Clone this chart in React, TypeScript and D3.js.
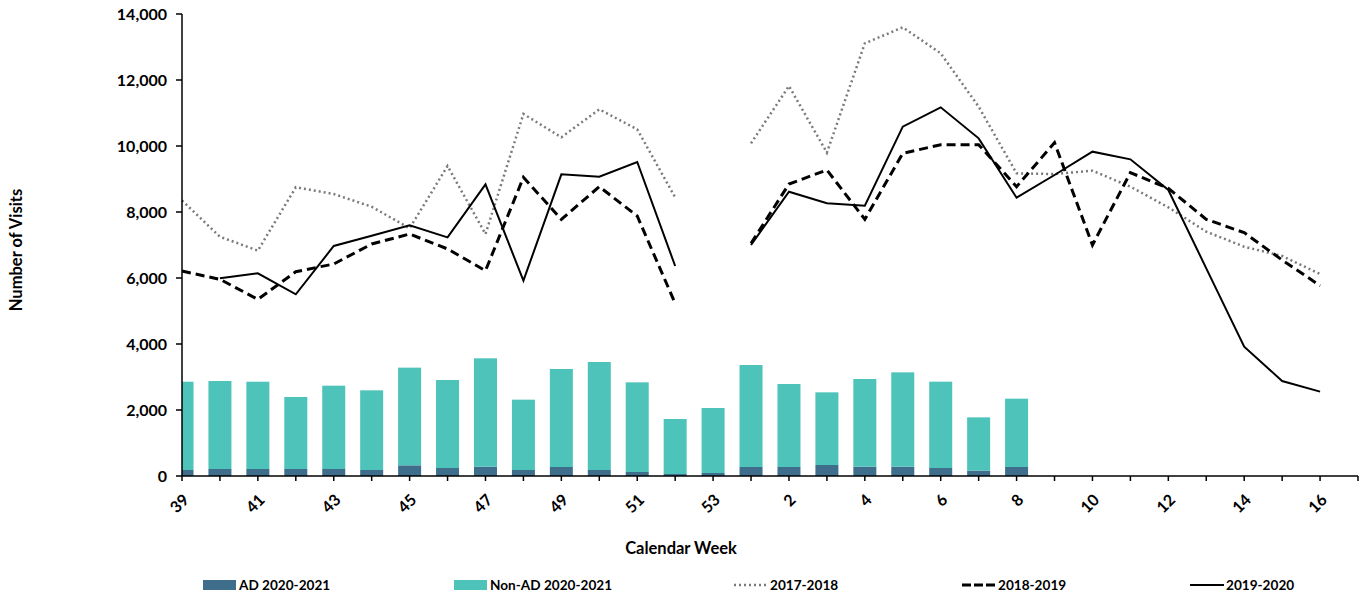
import { useEffect, useRef } from 'react';
import * as d3 from 'd3';

const weeks = [
  '39', '40', '41', '42', '43', '44', '45', '46', '47', '48', '49', '50', '51', '52', '53',
  '1', '2', '3', '4', '5', '6', '7', '8', '9', '10', '11', '12', '13', '14', '15', '16',
];

const ad2021 = [
  182, 212, 212, 212, 212, 182, 323, 242, 283, 182, 273, 182, 121, 61, 91,
  273, 273, 333, 283, 283, 242, 162, 273,
];
const nonAd2021 = [
  2675, 2667, 2645, 2182, 2525, 2414, 2960, 2667, 3283, 2131, 2969, 3272, 2717, 1666, 1969,
  3090, 2515, 2202, 2656, 2858, 2616, 1615, 2070,
];

const s1718 = [
  8350, 7250, 6830, 8750, 8545, 8160, 7505, 9394, 7333, 10970, 10263, 11111, 10505, 8444, null,
  10081, 11818, 9798, 13111, 13596, 12808, 11192, 9172, 9150, 9253, 8768, 8141, 7404, 6949, 6667, 6121,
];
const s1819 = [
  6212, 5960, 5354, 6192, 6424, 7030, 7333, 6880, 6222, 9050, 7778, 8768, 7879, 5232, null,
  7050, 8848, 9273, 7778, 9778, 10040, 10040, 8768, 10101, 7000, 9192, 8717, 7778, 7374, 6545, 5768,
];
const s1920 = [
  null, 5990, 6141, 5505, 6970, 7283, 7596, 7232, 8838, 5919, 9141, 9070, 9515, 6364, null,
  7000, 8616, 8263, 8192, 10586, 11172, 10232, 8434, 9121, 9828, 9596, 8667, 6293, 3919, 2879, 2556,
];

const yTicks = [0, 2000, 4000, 6000, 8000, 10000, 12000, 14000];

const FONT = 'Lato, "Open Sans", sans-serif';

function App() {
  const svgRef = useRef<SVGSVGElement | null>(null);
  const width = 1369;
  const height = 595;
  const left = 182;
  const right = 1358;
  const top = 14;
  const bottom = 476;

  useEffect(() => {
    const svg = d3.select(svgRef.current);
    svg.selectAll('*').remove();

    // one empty slot after week 16, like the source axis
    const x = d3.scaleLinear().domain([0, weeks.length]).range([left, right]);
    const y = d3.scaleLinear().domain([0, 14000]).range([bottom, top]);

    svg
      .append('clipPath')
      .attr('id', 'plot')
      .append('rect')
      .attr('x', left)
      .attr('y', 0)
      .attr('width', right - left)
      .attr('height', bottom);

    // stacked bars
    const barW = 23;
    const bars = svg.append('g').attr('clip-path', 'url(#plot)');
    bars
      .selectAll('rect.ad')
      .data(ad2021)
      .enter()
      .append('rect')
      .attr('x', (_, i) => x(i) - barW / 2)
      .attr('y', (d) => y(d))
      .attr('width', barW)
      .attr('height', (d) => y(0) - y(d))
      .attr('fill', '#3e6e8b');
    bars
      .selectAll('rect.nonad')
      .data(nonAd2021)
      .enter()
      .append('rect')
      .attr('x', (_, i) => x(i) - barW / 2)
      .attr('y', (d, i) => y(d + ad2021[i]))
      .attr('width', barW)
      .attr('height', (d) => y(0) - y(d))
      .attr('fill', '#4dc3b9');

    const line = d3
      .line<number | null>()
      .defined((d) => d != null)
      .x((_, i) => x(i))
      .y((d) => y(d as number));

    svg
      .append('path')
      .attr('d', line(s1718))
      .attr('fill', 'none')
      .attr('stroke', '#7a7a7a')
      .attr('stroke-width', 2.5)
      .attr('stroke-dasharray', '2,3');
    svg
      .append('path')
      .attr('d', line(s1819))
      .attr('fill', 'none')
      .attr('stroke', '#000')
      .attr('stroke-width', 3)
      .attr('stroke-dasharray', '9,5');
    svg
      .append('path')
      .attr('d', line(s1920))
      .attr('fill', 'none')
      .attr('stroke', '#000')
      .attr('stroke-width', 2);

    // y axis
    const yAxis = svg.append('g').attr('transform', `translate(${left},0)`);
    yAxis.append('line').attr('y1', top).attr('y2', bottom).attr('stroke', '#000').attr('stroke-width', 1.5);
    yAxis
      .selectAll('line.tick')
      .data(yTicks)
      .enter()
      .append('line')
      .attr('x1', -6)
      .attr('x2', 0)
      .attr('y1', (d) => y(d))
      .attr('y2', (d) => y(d))
      .attr('stroke', '#000')
      .attr('stroke-width', 1.5);
    yAxis
      .selectAll('text')
      .data(yTicks)
      .enter()
      .append('text')
      .attr('x', -15)
      .attr('y', (d) => y(d))
      .attr('dy', '0.36em')
      .attr('text-anchor', 'end')
      .attr('font-family', FONT)
      .attr('font-weight', 700)
      .attr('font-size', 16)
      .text((d) => d3.format(',')(d));

    // x axis
    const xAxis = svg.append('g').attr('transform', `translate(0,${bottom})`);
    xAxis.append('line').attr('x1', left).attr('x2', right).attr('stroke', '#000').attr('stroke-width', 1.5);
    xAxis
      .selectAll('line.tick')
      .data(d3.range(weeks.length + 1))
      .enter()
      .append('line')
      .attr('x1', (d) => x(d))
      .attr('x2', (d) => x(d))
      .attr('y1', 0)
      .attr('y2', 5)
      .attr('stroke', '#000')
      .attr('stroke-width', 1.5);
    xAxis
      .selectAll('text')
      .data(weeks.filter((_, i) => i % 2 === 0))
      .enter()
      .append('text')
      .attr('transform', (_, i) => `translate(${x(i * 2) + 4},${21}) rotate(-45)`)
      .attr('text-anchor', 'end')
      .attr('dy', '0.35em')
      .attr('font-family', FONT)
      .attr('font-weight', 700)
      .attr('font-size', 16)
      .text((d) => d);

    svg
      .append('text')
      .attr('x', 681)
      .attr('y', 554)
      .attr('text-anchor', 'middle')
      .attr('font-family', FONT)
      .attr('font-weight', 700)
      .attr('font-size', 16.5)
      .text('Calendar Week');
    svg
      .append('text')
      .attr('transform', 'translate(22,250) rotate(-90)')
      .attr('text-anchor', 'middle')
      .attr('font-family', FONT)
      .attr('font-weight', 700)
      .attr('font-size', 16.5)
      .text('Number of Visits');

    // legend
    const legend = svg.append('g').attr('font-family', FONT).attr('font-weight', 700).attr('font-size', 13.6);
    const legendY = 585;
    const items = [
      { label: 'AD 2020-2021', x: 203, kind: 'rect', color: '#3e6e8b' },
      { label: 'Non-AD 2020-2021', x: 454, kind: 'rect', color: '#4dc3b9' },
      { label: '2017-2018', x: 734, kind: 'dot', color: '#7a7a7a' },
      { label: '2018-2019', x: 962, kind: 'dash', color: '#000' },
      { label: '2019-2020', x: 1190, kind: 'solid', color: '#000' },
    ];
    items.forEach((it) => {
      if (it.kind === 'rect') {
        legend
          .append('rect')
          .attr('x', it.x)
          .attr('y', legendY - 5)
          .attr('width', 33)
          .attr('height', 10)
          .attr('fill', it.color);
      } else {
        const l = legend
          .append('line')
          .attr('x1', it.x)
          .attr('x2', it.x + 34)
          .attr('y1', legendY)
          .attr('y2', legendY)
          .attr('stroke', it.color);
        if (it.kind === 'dot') l.attr('stroke-width', 2.5).attr('stroke-dasharray', '2,3');
        if (it.kind === 'dash') l.attr('stroke-width', 3).attr('stroke-dasharray', '9,3');
        if (it.kind === 'solid') l.attr('stroke-width', 2);
      }
      legend
        .append('text')
        .attr('x', it.x + 36)
        .attr('y', legendY)
        .attr('dy', '0.36em')
        .text(it.label);
    });
  }, []);

  return (
    <svg
      ref={svgRef}
      width={width}
      height={height}
      viewBox={`0 0 ${width} ${height}`}
      style={{ position: 'absolute', left: 0, top: 0, background: '#fff' }}
    />
  );
}

export default App;
